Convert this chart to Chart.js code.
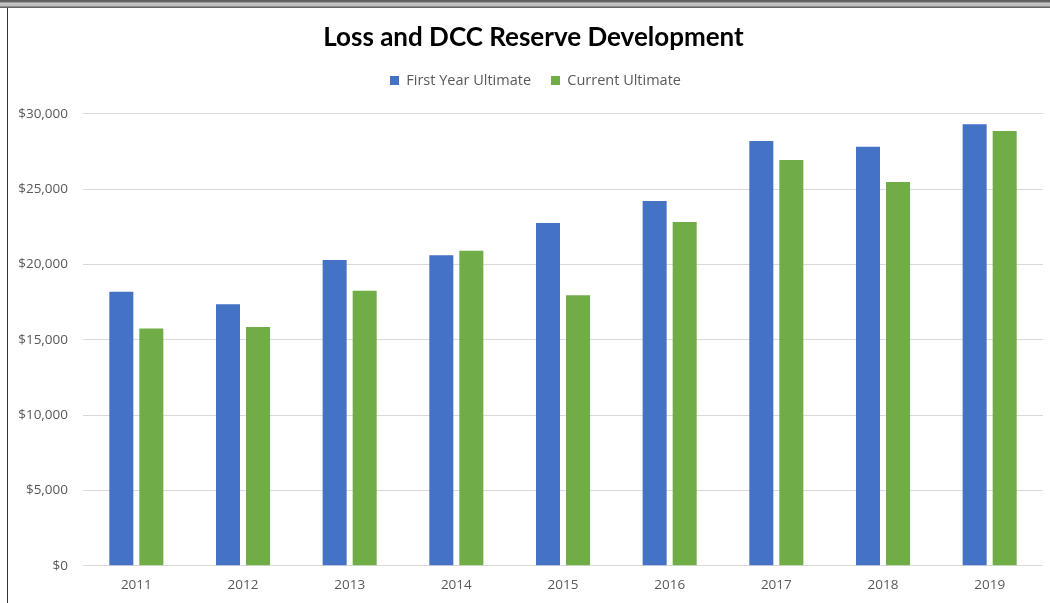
<!DOCTYPE html>
<html>
<head>
<meta charset="utf-8">
<script src="https://cdn.jsdelivr.net/npm/chart.js@4.4.1/dist/chart.umd.min.js"></script>
<style>
  html, body { margin: 0; padding: 0; background: #fff; }
  body { width: 1050px; height: 603px; position: relative; overflow: hidden; }
  .topbar {
    position: absolute; left: 0; top: 0; width: 1050px; height: 8px;
    background: linear-gradient(#5a5a5a 0, #6a6a6a 2px, #c8c8c8 3px, #bdbdbd 6px, #5e5e5e 7px, #6e6e6e 8px);
  }
  .frame {
    position: absolute; left: 7px; top: 8px; width: 1043px; height: 595px;
    border-left: 1.5px solid #333;
  }
  #chart { position: absolute; left: 8px; top: 8px; }
</style>
</head>
<body>
<div class="topbar"></div>
<div class="frame"></div>
<canvas id="chart" width="1042" height="595"></canvas>
<script>
// accident years and ultimates (thousands of dollars)
const years = ['2011', '2012', '2013', '2014', '2015', '2016', '2017', '2018', '2019'];
const firstYearUltimate = [18180, 17360, 20300, 20600, 22740, 24200, 28190, 27810, 29300];
const currentUltimate = [15750, 15840, 18250, 20900, 17960, 22810, 26930, 25470, 28850];
const yTicks = [0, 5000, 10000, 15000, 20000, 25000, 30000];

const titleFont = 'Lato, "Open Sans", sans-serif';
const bodyFont = '"Open Sans", "Noto Sans", sans-serif';
const textColor = '#595959';

// extra room under the legend row, and nudge the header a little to the right
const headerTweaks = {
  id: 'headerTweaks',
  beforeInit(chart) {
    const fit = chart.legend.fit;
    chart.legend.fit = function () {
      fit.call(this);
      this.height += 16;
    };
  },
  afterLayout(chart) {
    chart.titleBlock.left += 8;
    chart.titleBlock.right += 8;
    chart.legend.left += 10;
    chart.legend.right += 10;
  }
};

new Chart(document.getElementById('chart'), {
  type: 'bar',
  data: {
    labels: years,
    datasets: [
      {
        label: 'First Year Ultimate',
        data: firstYearUltimate,
        backgroundColor: '#4472C4',
        categoryPercentage: 0.563,
        barPercentage: 0.8
      },
      {
        label: 'Current Ultimate',
        data: currentUltimate,
        backgroundColor: '#70AD47',
        categoryPercentage: 0.563,
        barPercentage: 0.8
      }
    ]
  },
  plugins: [headerTweaks],
  options: {
    responsive: false,
    animation: false,
    layout: { padding: { left: 0, right: 7, top: 0, bottom: -1 } },
    plugins: {
      title: {
        display: true,
        text: 'Loss and DCC Reserve Development',
        color: '#000',
        font: { family: titleFont, size: 26, weight: 'bold' },
        padding: { top: 14, bottom: 0 }
      },
      legend: {
        position: 'top',
        labels: {
          color: textColor,
          font: { family: bodyFont, size: 14.5 },
          boxWidth: 9,
          boxHeight: 9,
          padding: 20
        }
      },
      tooltip: { enabled: false }
    },
    scales: {
      x: {
        grid: { display: false, drawTicks: false },
        border: { display: false },
        ticks: {
          color: textColor,
          font: { family: bodyFont, size: 13.5 },
          padding: 11
        }
      },
      y: {
        min: 0,
        max: 30000,
        afterFit: (scale) => { scale.width = 75; },
        afterBuildTicks: (scale) => { scale.ticks = yTicks.map(v => ({ value: v })); },
        grid: { color: '#d9d9d9', drawTicks: false },
        border: { display: false },
        ticks: {
          color: textColor,
          font: { family: bodyFont, size: 13.5 },
          padding: 15,
          callback: (v) => '$' + Number(v).toLocaleString('en-US')
        }
      }
    }
  }
});
</script>
</body>
</html>
